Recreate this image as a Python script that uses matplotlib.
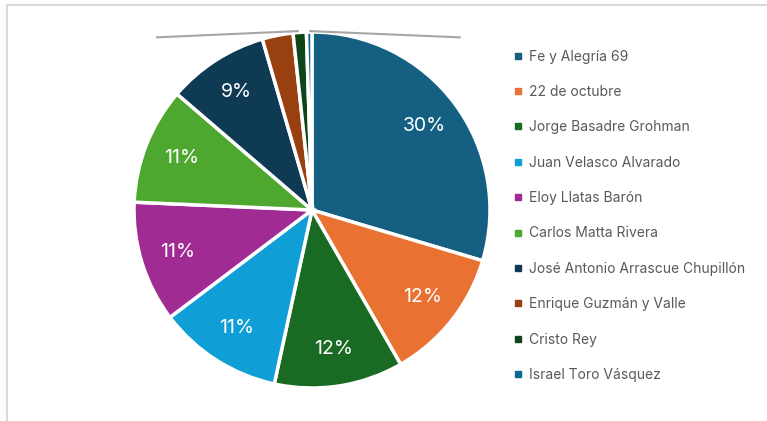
import matplotlib.pyplot as plt
import numpy as np
from matplotlib.lines import Line2D

# school names and their share of the total (percent)
schools = ['Fe y Alegría 69', '22 de octubre', 'Jorge Basadre Grohman',
           'Juan Velasco Alvarado', 'Eloy Llatas Barón', 'Carlos Matta Rivera',
           'José Antonio Arrascue Chupillón', 'Enrique Guzmán y Valle',
           'Cristo Rey', 'Israel Toro Vásquez']
shares = [29.6, 12.1, 11.7, 11.3, 11.0, 10.6, 9.2, 2.8, 1.2, 0.5]
colors = ['#156082', '#E97132', '#196B24', '#0F9ED5', '#A02B93', '#4EA72E',
          '#0E3A54', '#98400F', '#0F4519', '#0A6A90']

W, H = 767, 421
fig = plt.figure(figsize=(W / 100, H / 100), dpi=100)
plt.rcParams['font.family'] = ['Inter', 'DejaVu Sans']

# pie centred at (312, 210) px with radius 178 px
cx, cy, r = 312, 210, 178
ax = fig.add_axes([(cx - r) / W, (H - cy - r) / H, 2 * r / W, 2 * r / H])

def pct(p):
    return f'{p:.0f}%' if p >= 5 else ''

wedges, texts, autotexts = ax.pie(
    shares, colors=colors, startangle=90, counterclock=False,
    autopct=pct, pctdistance=0.79,
    wedgeprops=dict(edgecolor='white', linewidth=2.5),
    textprops=dict(color='white', fontsize=14))
ax.set_xlim(-1, 1)
ax.set_ylim(-1, 1)

# leader lines of the small slices (labels hidden)
ax.add_line(Line2D([-0.87, -0.08], [0.97, 1.005], color='#A6A6A6', lw=1.5, clip_on=False))
ax.add_line(Line2D([-0.01, 0.83], [1.005, 0.97], color='#A6A6A6', lw=1.5, clip_on=False))

# legend
handles = [Line2D([0], [0], marker='s', color='none', markerfacecolor=c,
                  markeredgecolor=c, markersize=4) for c in colors]
fig.legend(handles, schools, loc='upper left',
           bbox_to_anchor=(508 / W, 1 - 44 / H), frameon=False,
           fontsize=10, labelcolor='#595959', handlelength=0.6,
           handletextpad=0.5, labelspacing=1.54, borderaxespad=0)

# outer frame (top and left borders)
fig.add_artist(Line2D([7 / W, 1], [1 - 5 / H, 1 - 5 / H], color='#D9D9D9', lw=1.5))
fig.add_artist(Line2D([7 / W, 7 / W], [0, 1 - 5 / H], color='#D9D9D9', lw=1.5))

fig.savefig('out.png', dpi=100)
